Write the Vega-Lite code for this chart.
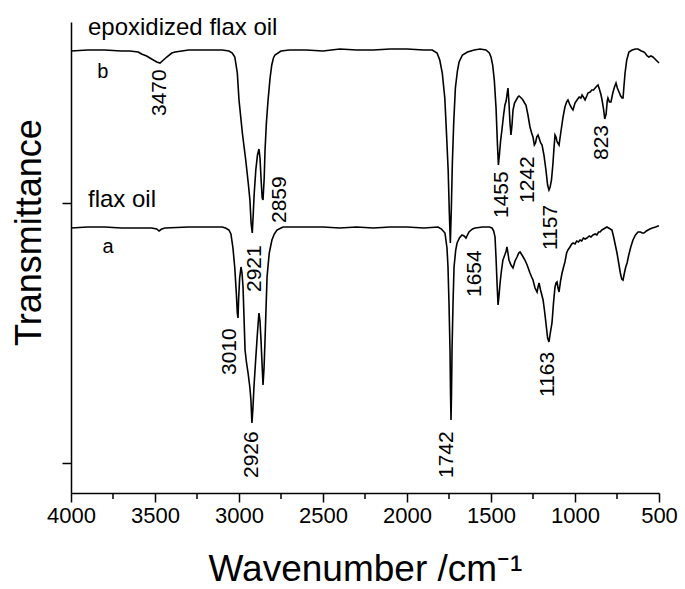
{
  "$schema": "https://vega.github.io/schema/vega-lite/v6.json",
  "width": 588,
  "height": 471,
  "autosize": {"type": "none"},
  "padding": {"left": 71, "top": 22, "right": 26, "bottom": 96},
  "background": "white",
  "config": {
    "view": {"stroke": null},
    "font": "Liberation Sans",
    "axis": {"domainColor": "black", "tickColor": "black", "domainWidth": 1.5, "tickWidth": 1.5, "grid": false, "labelColor": "black", "titleColor": "black", "titleFontWeight": "normal", "labelFont": "Liberation Sans", "titleFont": "Liberation Sans"}
  },
  "datasets": {
    "spectra": [
      {"sample": "b", "wn": 4000, "t": 442}, {"sample": "b", "wn": 3900, "t": 443}, {"sample": "b", "wn": 3800, "t": 443}, {"sample": "b", "wn": 3700, "t": 442}, {"sample": "b", "wn": 3650, "t": 442}, {"sample": "b", "wn": 3600, "t": 441}, {"sample": "b", "wn": 3580, "t": 439}, {"sample": "b", "wn": 3550, "t": 437}, {"sample": "b", "wn": 3520, "t": 434}, {"sample": "b", "wn": 3490, "t": 431}, {"sample": "b", "wn": 3470, "t": 430}, {"sample": "b", "wn": 3450, "t": 433}, {"sample": "b", "wn": 3430, "t": 436}, {"sample": "b", "wn": 3400, "t": 440}, {"sample": "b", "wn": 3380, "t": 441}, {"sample": "b", "wn": 3300, "t": 443}, {"sample": "b", "wn": 3200, "t": 443}, {"sample": "b", "wn": 3100, "t": 443}, {"sample": "b", "wn": 3060, "t": 442}, {"sample": "b", "wn": 3040, "t": 440}, {"sample": "b", "wn": 3025, "t": 436}, {"sample": "b", "wn": 3010, "t": 420}, {"sample": "b", "wn": 3000, "t": 393}, {"sample": "b", "wn": 2980, "t": 360}, {"sample": "b", "wn": 2960, "t": 333}, {"sample": "b", "wn": 2945, "t": 310}, {"sample": "b", "wn": 2935, "t": 293}, {"sample": "b", "wn": 2928, "t": 270}, {"sample": "b", "wn": 2921, "t": 260}, {"sample": "b", "wn": 2915, "t": 280}, {"sample": "b", "wn": 2910, "t": 298}, {"sample": "b", "wn": 2900, "t": 323}, {"sample": "b", "wn": 2890, "t": 338}, {"sample": "b", "wn": 2881, "t": 344}, {"sample": "b", "wn": 2875, "t": 335}, {"sample": "b", "wn": 2868, "t": 312}, {"sample": "b", "wn": 2862, "t": 295}, {"sample": "b", "wn": 2857, "t": 293}, {"sample": "b", "wn": 2850, "t": 315}, {"sample": "b", "wn": 2845, "t": 343}, {"sample": "b", "wn": 2837, "t": 370}, {"sample": "b", "wn": 2827, "t": 393}, {"sample": "b", "wn": 2815, "t": 415}, {"sample": "b", "wn": 2805, "t": 428}, {"sample": "b", "wn": 2795, "t": 435}, {"sample": "b", "wn": 2786, "t": 438}, {"sample": "b", "wn": 2750, "t": 442}, {"sample": "b", "wn": 2700, "t": 443}, {"sample": "b", "wn": 2600, "t": 443}, {"sample": "b", "wn": 2500, "t": 442}, {"sample": "b", "wn": 2400, "t": 444}, {"sample": "b", "wn": 2300, "t": 443}, {"sample": "b", "wn": 2200, "t": 443}, {"sample": "b", "wn": 2100, "t": 444}, {"sample": "b", "wn": 2000, "t": 444}, {"sample": "b", "wn": 1900, "t": 443}, {"sample": "b", "wn": 1850, "t": 443}, {"sample": "b", "wn": 1821, "t": 440}, {"sample": "b", "wn": 1805, "t": 433}, {"sample": "b", "wn": 1790, "t": 420}, {"sample": "b", "wn": 1775, "t": 395}, {"sample": "b", "wn": 1765, "t": 360}, {"sample": "b", "wn": 1755, "t": 323}, {"sample": "b", "wn": 1748, "t": 280}, {"sample": "b", "wn": 1742, "t": 250}, {"sample": "b", "wn": 1736, "t": 285}, {"sample": "b", "wn": 1730, "t": 330}, {"sample": "b", "wn": 1722, "t": 370}, {"sample": "b", "wn": 1712, "t": 405}, {"sample": "b", "wn": 1700, "t": 422}, {"sample": "b", "wn": 1690, "t": 431}, {"sample": "b", "wn": 1670, "t": 438}, {"sample": "b", "wn": 1640, "t": 441}, {"sample": "b", "wn": 1600, "t": 443}, {"sample": "b", "wn": 1565, "t": 444}, {"sample": "b", "wn": 1530, "t": 443}, {"sample": "b", "wn": 1510, "t": 440}, {"sample": "b", "wn": 1500, "t": 436}, {"sample": "b", "wn": 1490, "t": 428}, {"sample": "b", "wn": 1480, "t": 412}, {"sample": "b", "wn": 1470, "t": 385}, {"sample": "b", "wn": 1462, "t": 350}, {"sample": "b", "wn": 1456, "t": 328}, {"sample": "b", "wn": 1450, "t": 338}, {"sample": "b", "wn": 1443, "t": 352}, {"sample": "b", "wn": 1435, "t": 363}, {"sample": "b", "wn": 1425, "t": 378}, {"sample": "b", "wn": 1417, "t": 388}, {"sample": "b", "wn": 1410, "t": 392}, {"sample": "b", "wn": 1405, "t": 398}, {"sample": "b", "wn": 1399, "t": 405}, {"sample": "b", "wn": 1393, "t": 390}, {"sample": "b", "wn": 1387, "t": 370}, {"sample": "b", "wn": 1381, "t": 358}, {"sample": "b", "wn": 1375, "t": 368}, {"sample": "b", "wn": 1369, "t": 383}, {"sample": "b", "wn": 1360, "t": 390}, {"sample": "b", "wn": 1350, "t": 393}, {"sample": "b", "wn": 1340, "t": 396}, {"sample": "b", "wn": 1333, "t": 397}, {"sample": "b", "wn": 1320, "t": 395}, {"sample": "b", "wn": 1310, "t": 393}, {"sample": "b", "wn": 1300, "t": 390}, {"sample": "b", "wn": 1292, "t": 388}, {"sample": "b", "wn": 1280, "t": 378}, {"sample": "b", "wn": 1268, "t": 366}, {"sample": "b", "wn": 1258, "t": 360}, {"sample": "b", "wn": 1250, "t": 356}, {"sample": "b", "wn": 1242, "t": 348}, {"sample": "b", "wn": 1235, "t": 350}, {"sample": "b", "wn": 1228, "t": 356}, {"sample": "b", "wn": 1220, "t": 358}, {"sample": "b", "wn": 1212, "t": 354}, {"sample": "b", "wn": 1204, "t": 350}, {"sample": "b", "wn": 1196, "t": 348}, {"sample": "b", "wn": 1185, "t": 338}, {"sample": "b", "wn": 1173, "t": 323}, {"sample": "b", "wn": 1163, "t": 308}, {"sample": "b", "wn": 1155, "t": 303}, {"sample": "b", "wn": 1148, "t": 306}, {"sample": "b", "wn": 1140, "t": 313}, {"sample": "b", "wn": 1131, "t": 330}, {"sample": "b", "wn": 1125, "t": 345}, {"sample": "b", "wn": 1119, "t": 358}, {"sample": "b", "wn": 1113, "t": 356}, {"sample": "b", "wn": 1108, "t": 352}, {"sample": "b", "wn": 1102, "t": 350}, {"sample": "b", "wn": 1095, "t": 348}, {"sample": "b", "wn": 1085, "t": 360}, {"sample": "b", "wn": 1071, "t": 376}, {"sample": "b", "wn": 1060, "t": 386}, {"sample": "b", "wn": 1050, "t": 391}, {"sample": "b", "wn": 1042, "t": 393}, {"sample": "b", "wn": 1030, "t": 388}, {"sample": "b", "wn": 1020, "t": 385}, {"sample": "b", "wn": 1012, "t": 383}, {"sample": "b", "wn": 1000, "t": 390}, {"sample": "b", "wn": 988, "t": 393}, {"sample": "b", "wn": 975, "t": 396}, {"sample": "b", "wn": 965, "t": 395}, {"sample": "b", "wn": 958, "t": 398}, {"sample": "b", "wn": 950, "t": 396}, {"sample": "b", "wn": 940, "t": 393}, {"sample": "b", "wn": 930, "t": 397}, {"sample": "b", "wn": 923, "t": 400}, {"sample": "b", "wn": 910, "t": 401}, {"sample": "b", "wn": 900, "t": 403}, {"sample": "b", "wn": 890, "t": 403}, {"sample": "b", "wn": 875, "t": 406}, {"sample": "b", "wn": 863, "t": 408}, {"sample": "b", "wn": 855, "t": 404}, {"sample": "b", "wn": 845, "t": 398}, {"sample": "b", "wn": 839, "t": 393}, {"sample": "b", "wn": 830, "t": 384}, {"sample": "b", "wn": 823, "t": 374}, {"sample": "b", "wn": 815, "t": 379}, {"sample": "b", "wn": 808, "t": 392}, {"sample": "b", "wn": 804, "t": 395}, {"sample": "b", "wn": 795, "t": 391}, {"sample": "b", "wn": 786, "t": 391}, {"sample": "b", "wn": 775, "t": 400}, {"sample": "b", "wn": 765, "t": 406}, {"sample": "b", "wn": 756, "t": 410}, {"sample": "b", "wn": 748, "t": 405}, {"sample": "b", "wn": 738, "t": 401}, {"sample": "b", "wn": 728, "t": 397}, {"sample": "b", "wn": 720, "t": 395}, {"sample": "b", "wn": 714, "t": 395}, {"sample": "b", "wn": 708, "t": 408}, {"sample": "b", "wn": 702, "t": 420}, {"sample": "b", "wn": 692, "t": 433}, {"sample": "b", "wn": 679, "t": 441}, {"sample": "b", "wn": 660, "t": 443}, {"sample": "b", "wn": 640, "t": 444}, {"sample": "b", "wn": 625, "t": 444}, {"sample": "b", "wn": 605, "t": 442}, {"sample": "b", "wn": 590, "t": 441}, {"sample": "b", "wn": 583, "t": 440}, {"sample": "b", "wn": 570, "t": 437}, {"sample": "b", "wn": 560, "t": 436}, {"sample": "b", "wn": 548, "t": 437}, {"sample": "b", "wn": 536, "t": 436}, {"sample": "b", "wn": 524, "t": 434}, {"sample": "b", "wn": 512, "t": 432}, {"sample": "b", "wn": 500, "t": 430},
      {"sample": "a", "wn": 4000, "t": 265}, {"sample": "a", "wn": 3900, "t": 266}, {"sample": "a", "wn": 3800, "t": 266}, {"sample": "a", "wn": 3700, "t": 265}, {"sample": "a", "wn": 3600, "t": 265}, {"sample": "a", "wn": 3520, "t": 265}, {"sample": "a", "wn": 3490, "t": 264}, {"sample": "a", "wn": 3476, "t": 262}, {"sample": "a", "wn": 3460, "t": 264}, {"sample": "a", "wn": 3440, "t": 265}, {"sample": "a", "wn": 3300, "t": 266}, {"sample": "a", "wn": 3200, "t": 266}, {"sample": "a", "wn": 3100, "t": 266}, {"sample": "a", "wn": 3080, "t": 265}, {"sample": "a", "wn": 3060, "t": 263}, {"sample": "a", "wn": 3048, "t": 259}, {"sample": "a", "wn": 3036, "t": 245}, {"sample": "a", "wn": 3025, "t": 225}, {"sample": "a", "wn": 3016, "t": 200}, {"sample": "a", "wn": 3010, "t": 180}, {"sample": "a", "wn": 3006, "t": 175}, {"sample": "a", "wn": 3002, "t": 195}, {"sample": "a", "wn": 2996, "t": 215}, {"sample": "a", "wn": 2988, "t": 226}, {"sample": "a", "wn": 2982, "t": 220}, {"sample": "a", "wn": 2976, "t": 206}, {"sample": "a", "wn": 2970, "t": 175}, {"sample": "a", "wn": 2964, "t": 143}, {"sample": "a", "wn": 2955, "t": 130}, {"sample": "a", "wn": 2946, "t": 120}, {"sample": "a", "wn": 2935, "t": 105}, {"sample": "a", "wn": 2929, "t": 93}, {"sample": "a", "wn": 2923, "t": 70}, {"sample": "a", "wn": 2917, "t": 85}, {"sample": "a", "wn": 2911, "t": 106}, {"sample": "a", "wn": 2902, "t": 130}, {"sample": "a", "wn": 2893, "t": 153}, {"sample": "a", "wn": 2886, "t": 170}, {"sample": "a", "wn": 2881, "t": 180}, {"sample": "a", "wn": 2875, "t": 172}, {"sample": "a", "wn": 2869, "t": 153}, {"sample": "a", "wn": 2863, "t": 130}, {"sample": "a", "wn": 2857, "t": 108}, {"sample": "a", "wn": 2851, "t": 125}, {"sample": "a", "wn": 2845, "t": 153}, {"sample": "a", "wn": 2839, "t": 185}, {"sample": "a", "wn": 2833, "t": 216}, {"sample": "a", "wn": 2820, "t": 240}, {"sample": "a", "wn": 2804, "t": 253}, {"sample": "a", "wn": 2790, "t": 259}, {"sample": "a", "wn": 2774, "t": 263}, {"sample": "a", "wn": 2750, "t": 265}, {"sample": "a", "wn": 2738, "t": 266}, {"sample": "a", "wn": 2600, "t": 266}, {"sample": "a", "wn": 2500, "t": 266}, {"sample": "a", "wn": 2400, "t": 265}, {"sample": "a", "wn": 2300, "t": 266}, {"sample": "a", "wn": 2200, "t": 265}, {"sample": "a", "wn": 2100, "t": 266}, {"sample": "a", "wn": 2000, "t": 266}, {"sample": "a", "wn": 1900, "t": 265}, {"sample": "a", "wn": 1815, "t": 266}, {"sample": "a", "wn": 1795, "t": 264}, {"sample": "a", "wn": 1774, "t": 260}, {"sample": "a", "wn": 1762, "t": 245}, {"sample": "a", "wn": 1756, "t": 226}, {"sample": "a", "wn": 1750, "t": 190}, {"sample": "a", "wn": 1744, "t": 143}, {"sample": "a", "wn": 1741, "t": 100}, {"sample": "a", "wn": 1738, "t": 73}, {"sample": "a", "wn": 1735, "t": 100}, {"sample": "a", "wn": 1732, "t": 143}, {"sample": "a", "wn": 1726, "t": 190}, {"sample": "a", "wn": 1720, "t": 226}, {"sample": "a", "wn": 1710, "t": 243}, {"sample": "a", "wn": 1702, "t": 250}, {"sample": "a", "wn": 1688, "t": 255}, {"sample": "a", "wn": 1673, "t": 258}, {"sample": "a", "wn": 1660, "t": 257}, {"sample": "a", "wn": 1649, "t": 255}, {"sample": "a", "wn": 1640, "t": 258}, {"sample": "a", "wn": 1631, "t": 261}, {"sample": "a", "wn": 1610, "t": 264}, {"sample": "a", "wn": 1595, "t": 265}, {"sample": "a", "wn": 1550, "t": 266}, {"sample": "a", "wn": 1510, "t": 266}, {"sample": "a", "wn": 1494, "t": 265}, {"sample": "a", "wn": 1484, "t": 262}, {"sample": "a", "wn": 1476, "t": 256}, {"sample": "a", "wn": 1470, "t": 235}, {"sample": "a", "wn": 1464, "t": 210}, {"sample": "a", "wn": 1458, "t": 188}, {"sample": "a", "wn": 1452, "t": 198}, {"sample": "a", "wn": 1446, "t": 210}, {"sample": "a", "wn": 1438, "t": 222}, {"sample": "a", "wn": 1429, "t": 233}, {"sample": "a", "wn": 1418, "t": 238}, {"sample": "a", "wn": 1410, "t": 242}, {"sample": "a", "wn": 1405, "t": 246}, {"sample": "a", "wn": 1399, "t": 240}, {"sample": "a", "wn": 1393, "t": 233}, {"sample": "a", "wn": 1381, "t": 228}, {"sample": "a", "wn": 1369, "t": 225}, {"sample": "a", "wn": 1357, "t": 232}, {"sample": "a", "wn": 1345, "t": 236}, {"sample": "a", "wn": 1335, "t": 240}, {"sample": "a", "wn": 1327, "t": 241}, {"sample": "a", "wn": 1312, "t": 237}, {"sample": "a", "wn": 1298, "t": 233}, {"sample": "a", "wn": 1285, "t": 228}, {"sample": "a", "wn": 1268, "t": 220}, {"sample": "a", "wn": 1258, "t": 216}, {"sample": "a", "wn": 1250, "t": 213}, {"sample": "a", "wn": 1238, "t": 205}, {"sample": "a", "wn": 1226, "t": 201}, {"sample": "a", "wn": 1220, "t": 206}, {"sample": "a", "wn": 1214, "t": 210}, {"sample": "a", "wn": 1205, "t": 203}, {"sample": "a", "wn": 1190, "t": 193}, {"sample": "a", "wn": 1182, "t": 183}, {"sample": "a", "wn": 1173, "t": 170}, {"sample": "a", "wn": 1163, "t": 155}, {"sample": "a", "wn": 1155, "t": 151}, {"sample": "a", "wn": 1147, "t": 160}, {"sample": "a", "wn": 1137, "t": 170}, {"sample": "a", "wn": 1128, "t": 190}, {"sample": "a", "wn": 1119, "t": 206}, {"sample": "a", "wn": 1113, "t": 210}, {"sample": "a", "wn": 1107, "t": 211}, {"sample": "a", "wn": 1101, "t": 205}, {"sample": "a", "wn": 1095, "t": 201}, {"sample": "a", "wn": 1086, "t": 212}, {"sample": "a", "wn": 1077, "t": 220}, {"sample": "a", "wn": 1068, "t": 226}, {"sample": "a", "wn": 1060, "t": 231}, {"sample": "a", "wn": 1050, "t": 240}, {"sample": "a", "wn": 1042, "t": 243}, {"sample": "a", "wn": 1030, "t": 246}, {"sample": "a", "wn": 1020, "t": 249}, {"sample": "a", "wn": 1012, "t": 250}, {"sample": "a", "wn": 1000, "t": 249}, {"sample": "a", "wn": 990, "t": 252}, {"sample": "a", "wn": 980, "t": 251}, {"sample": "a", "wn": 970, "t": 253}, {"sample": "a", "wn": 960, "t": 252}, {"sample": "a", "wn": 950, "t": 255}, {"sample": "a", "wn": 940, "t": 254}, {"sample": "a", "wn": 929, "t": 255}, {"sample": "a", "wn": 915, "t": 257}, {"sample": "a", "wn": 905, "t": 256}, {"sample": "a", "wn": 893, "t": 258}, {"sample": "a", "wn": 880, "t": 259}, {"sample": "a", "wn": 870, "t": 258}, {"sample": "a", "wn": 860, "t": 261}, {"sample": "a", "wn": 851, "t": 261}, {"sample": "a", "wn": 840, "t": 263}, {"sample": "a", "wn": 830, "t": 264}, {"sample": "a", "wn": 820, "t": 265}, {"sample": "a", "wn": 810, "t": 266}, {"sample": "a", "wn": 800, "t": 265}, {"sample": "a", "wn": 790, "t": 264}, {"sample": "a", "wn": 780, "t": 263}, {"sample": "a", "wn": 770, "t": 256}, {"sample": "a", "wn": 760, "t": 248}, {"sample": "a", "wn": 750, "t": 240}, {"sample": "a", "wn": 740, "t": 230}, {"sample": "a", "wn": 730, "t": 220}, {"sample": "a", "wn": 722, "t": 214}, {"sample": "a", "wn": 714, "t": 213}, {"sample": "a", "wn": 706, "t": 220}, {"sample": "a", "wn": 698, "t": 226}, {"sample": "a", "wn": 690, "t": 230}, {"sample": "a", "wn": 680, "t": 238}, {"sample": "a", "wn": 668, "t": 246}, {"sample": "a", "wn": 655, "t": 253}, {"sample": "a", "wn": 640, "t": 258}, {"sample": "a", "wn": 625, "t": 261}, {"sample": "a", "wn": 610, "t": 261}, {"sample": "a", "wn": 600, "t": 260}, {"sample": "a", "wn": 589, "t": 260}, {"sample": "a", "wn": 575, "t": 262}, {"sample": "a", "wn": 565, "t": 263}, {"sample": "a", "wn": 554, "t": 264}, {"sample": "a", "wn": 540, "t": 265}, {"sample": "a", "wn": 520, "t": 266}, {"sample": "a", "wn": 506, "t": 267}, {"sample": "a", "wn": 500, "t": 267}
    ],
    "peaks": [
      {"wn": 3470, "t": 377, "label": "3470"},
      {"wn": 2756, "t": 270, "label": "2859"},
      {"wn": 2905, "t": 201, "label": "2921"},
      {"wn": 1435, "t": 275, "label": "1455"},
      {"wn": 1280, "t": 290, "label": "1242"},
      {"wn": 1143, "t": 243, "label": "1157"},
      {"wn": 839, "t": 333, "label": "823"},
      {"wn": 3054, "t": 118, "label": "3010"},
      {"wn": 2923, "t": 15, "label": "2926"},
      {"wn": 1762, "t": 15, "label": "1742"},
      {"wn": 1595, "t": 196, "label": "1654"},
      {"wn": 1161, "t": 96, "label": "1163"}
    ],
    "names": [
      {"wn": 3899, "t": 458, "label": "epoxidized flax oil"},
      {"wn": 3899, "t": 286, "label": "flax oil"}
    ],
    "letters": [
      {"wn": 3810, "t": 415, "label": "b"},
      {"wn": 3780, "t": 240, "label": "a"}
    ],
    "minor": [
      {"wn": 3750}, {"wn": 3250}, {"wn": 2750}, {"wn": 2250}, {"wn": 1750}, {"wn": 1250}, {"wn": 750}
    ]
  },
  "layer": [
    {
      "data": {"name": "spectra"},
      "mark": {"type": "line", "strokeWidth": 1.6, "color": "black"},
      "encoding": {
        "x": {
          "field": "wn", "type": "quantitative",
          "scale": {"domain": [4000, 500], "nice": false, "zero": false},
          "axis": {
            "orient": "bottom",
            "values": [4000, 3500, 3000, 2500, 2000, 1500, 1000, 500],
            "format": "d",
            "tickSize": 9,
            "labelFontSize": 22, "labelPadding": 3, "labelFlush": false, "labelOverlap": false,
            "title": "Wavenumber /cm⁻¹", "titleFontSize": 37, "titleY": 87, "titleBaseline": "alphabetic"
          }
        },
        "y": {
          "field": "t", "type": "quantitative",
          "scale": {"domain": [0, 471], "nice": false, "zero": false},
          "axis": {"values": [30, 290], "labels": false, "tickSize": 9, "title": "Transmittance", "titleFontSize": 36, "titleX": -31, "titleY": 210, "titleBaseline": "alphabetic", "titleAngle": 270}
        },
        "detail": {"field": "sample"}
      }
    },
    {
      "data": {"name": "minor"},
      "mark": {"type": "rule", "strokeWidth": 1.5, "color": "black", "clip": false},
      "encoding": {
        "x": {"field": "wn", "type": "quantitative"},
        "y": {"datum": 0},
        "y2": {"datum": -6}
      }
    },
    {
      "data": {"name": "peaks"},
      "mark": {"type": "text", "angle": 270, "align": "left", "baseline": "middle", "fontSize": 21, "color": "black", "font": "Liberation Sans"},
      "encoding": {
        "x": {"field": "wn", "type": "quantitative"},
        "y": {"field": "t", "type": "quantitative"},
        "text": {"field": "label"}
      }
    },
    {
      "data": {"name": "names"},
      "mark": {"type": "text", "align": "left", "baseline": "alphabetic", "fontSize": 24, "color": "black", "font": "Liberation Sans"},
      "encoding": {
        "x": {"field": "wn", "type": "quantitative"},
        "y": {"field": "t", "type": "quantitative"},
        "text": {"field": "label"}
      }
    },
    {
      "data": {"name": "letters"},
      "mark": {"type": "text", "align": "center", "baseline": "alphabetic", "fontSize": 20, "color": "black", "font": "Liberation Sans"},
      "encoding": {
        "x": {"field": "wn", "type": "quantitative"},
        "y": {"field": "t", "type": "quantitative"},
        "text": {"field": "label"}
      }
    }
  ]
}
